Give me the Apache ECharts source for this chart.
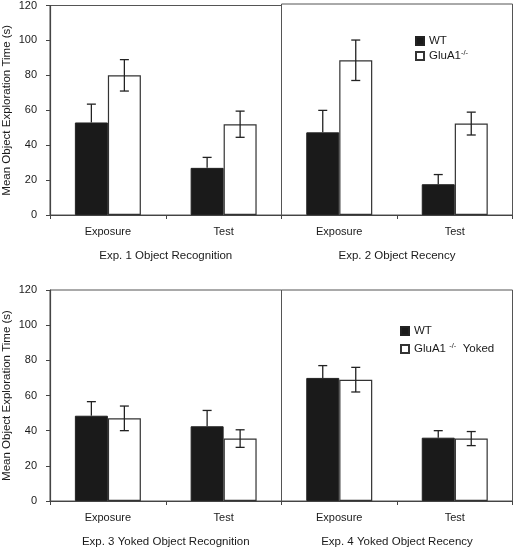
<!DOCTYPE html>
<html>
<head>
<meta charset="utf-8">
<script src="https://cdn.jsdelivr.net/npm/echarts@6/dist/echarts.min.js"></script>
<style>
  html, body { margin: 0; padding: 0; background: #fff; }
  #chart { width: 514px; height: 549px; }
</style>
</head>
<body>
<div id="chart"></div>
<script>
// ---- Data ----
var categories = ['Exposure', 'Test'];
var yTicks = [0, 20, 40, 60, 80, 100, 120];
var panelTitles = ['Exp. 1 Object Recognition', 'Exp. 2 Object Recency',
                   'Exp. 3 Yoked Object Recognition', 'Exp. 4 Yoked Object Recency'];

var exp1WT = [53, 27];     var exp1WTErr = [10.5, 6];
var exp1KO = [80, 52];     var exp1KOErr = [9, 7.5];
var exp2WT = [47, 17.5];   var exp2WTErr = [12.5, 5.5];
var exp2KO = [88, 52];     var exp2KOErr = [11.5, 6.5];
var exp3WT = [48.5, 42.5]; var exp3WTErr = [8, 9];
var exp3KO = [47, 35.5];   var exp3KOErr = [7, 5];
var exp4WT = [70, 36];     var exp4WTErr = [7, 4];
var exp4KO = [69, 35.5];   var exp4KOErr = [7, 4];

var wtName = 'WT';
var koName = 'GluA1-/-';
var koYokedName = 'GluA1-/- Yoked';

// ---- Styling ----
var FONT = '"Liberation Sans", Arial, Helvetica, sans-serif';
var TXT = '#1a1a1a';
var AXIS = '#444';
var BAR_W = 33;
var CAP = 9;

var panels = [
  { wt: exp1WT, wtE: exp1WTErr, ko: exp1KO, koE: exp1KOErr, koName: koName },
  { wt: exp2WT, wtE: exp2WTErr, ko: exp2KO, koE: exp2KOErr, koName: koName },
  { wt: exp3WT, wtE: exp3WTErr, ko: exp3KO, koE: exp3KOErr, koName: koYokedName },
  { wt: exp4WT, wtE: exp4WTErr, ko: exp4KO, koE: exp4KOErr, koName: koYokedName }
];

var gridPos = [
  { left: 49.5, top: 4, width: 232, height: 211 },
  { left: 281.5, top: 4, width: 231, height: 211 },
  { left: 49.5, top: 290, width: 232, height: 211 },
  { left: 281.5, top: 290, width: 231, height: 211 }
];

function errRender(side, upperOnly) {
  return function (params, api) {
    var x = api.value(0), v = api.value(1), e = api.value(2);
    var top = api.coord([x, v + e]);
    var bot = api.coord([x, upperOnly ? v : v - e]);
    var cx = top[0] + side * BAR_W / 2;
    var st = { stroke: '#222', lineWidth: 1.3 };
    var children = [
      { type: 'line', shape: { x1: cx, y1: top[1], x2: cx, y2: bot[1] }, style: st },
      { type: 'line', shape: { x1: cx - CAP / 2, y1: top[1], x2: cx + CAP / 2, y2: top[1] }, style: st }
    ];
    if (!upperOnly) {
      children.push({ type: 'line', shape: { x1: cx - CAP / 2, y1: bot[1], x2: cx + CAP / 2, y2: bot[1] }, style: st });
    }
    return { type: 'group', children: children };
  };
}

var grids = [], xAxes = [], yAxes = [], series = [];
panels.forEach(function (p, i) {
  grids.push({
    left: gridPos[i].left, top: gridPos[i].top,
    width: gridPos[i].width, height: gridPos[i].height,
    show: true, borderColor: '#555', borderWidth: 1, containLabel: false
  });
  xAxes.push({
    type: 'category', gridIndex: i, data: categories,
    name: panelTitles[i], nameLocation: 'middle', nameGap: 35,
    nameTextStyle: { fontFamily: FONT, fontSize: 11.5, color: TXT },
    axisLine: { lineStyle: { color: AXIS, width: 1.2 } },
    axisTick: { show: true, length: 4, lineStyle: { color: AXIS } },
    axisLabel: { fontFamily: FONT, fontSize: 11, color: TXT, margin: 11 },
    splitLine: { show: false }
  });
  var isLeft = (i % 2 === 0);
  yAxes.push({
    type: 'value', gridIndex: i, min: 0, max: 120, interval: 20,
    name: isLeft ? 'Mean Object Exploration Time (s)' : '',
    nameLocation: 'middle', nameGap: 37,
    nameTextStyle: { fontFamily: FONT, fontSize: 11.5, color: TXT },
    axisLine: { show: isLeft, lineStyle: { color: AXIS, width: 1.2 } },
    axisTick: { show: isLeft, length: 4, lineStyle: { color: AXIS } },
    axisLabel: { show: isLeft, fontFamily: FONT, fontSize: 11, color: TXT, margin: 13,
      formatter: function (v) { return yTicks.indexOf(v) >= 0 ? String(v) : ''; } },
    splitLine: { show: false }
  });
  series.push({
    name: wtName, type: 'bar', xAxisIndex: i, yAxisIndex: i,
    data: p.wt, barWidth: BAR_W, barGap: '0%',
    itemStyle: { color: '#1a1a1a', borderColor: '#222', borderWidth: 1 },
    z: 2
  });
  series.push({
    name: p.koName, type: 'bar', xAxisIndex: i, yAxisIndex: i,
    data: p.ko, barWidth: BAR_W, barGap: '0%',
    itemStyle: { color: '#ffffff', borderColor: '#333', borderWidth: 1.2 },
    z: 2
  });
  series.push({
    type: 'custom', xAxisIndex: i, yAxisIndex: i,
    renderItem: errRender(-1, true), encode: { x: 0, y: 1 }, z: 5, silent: true,
    data: p.wt.map(function (v, k) { return [k, v, p.wtE[k]]; })
  });
  series.push({
    type: 'custom', xAxisIndex: i, yAxisIndex: i,
    renderItem: errRender(1, false), encode: { x: 0, y: 1 }, z: 5, silent: true,
    data: p.ko.map(function (v, k) { return [k, v, p.koE[k]]; })
  });
});

function legendFmt(name) {
  if (name === koName) return '{t|GluA1}{s|-/-}';
  if (name === koYokedName) return '{t|GluA1 }{s|-/-}{t|  Yoked}';
  return '{t|' + name + '}';
}
var legendText = {
  fontFamily: FONT, fontSize: 11.5, color: TXT,
  rich: {
    t: { fontFamily: FONT, fontSize: 11.5, color: TXT },
    s: { fontFamily: FONT, fontSize: 7.5, color: TXT, padding: [0, 0, 6, 0] }
  }
};

var option = {
  animation: false,
  backgroundColor: '#ffffff',
  grid: grids,
  xAxis: xAxes,
  yAxis: yAxes,
  legend: [
    { data: [wtName, koName], orient: 'vertical', left: 415, top: 35,
      padding: 0, itemWidth: 8, itemHeight: 8, itemGap: 2, icon: 'rect',
      formatter: legendFmt, textStyle: legendText, selectedMode: false },
    { data: [wtName, koYokedName], orient: 'vertical', left: 400, top: 325,
      padding: 0, itemWidth: 8, itemHeight: 8, itemGap: 5, icon: 'rect',
      formatter: legendFmt, textStyle: legendText, selectedMode: false }
  ],
  series: series
};

var chart = echarts.init(document.getElementById('chart'), null, { renderer: 'canvas' });
chart.setOption(option);
</script>
</body>
</html>
